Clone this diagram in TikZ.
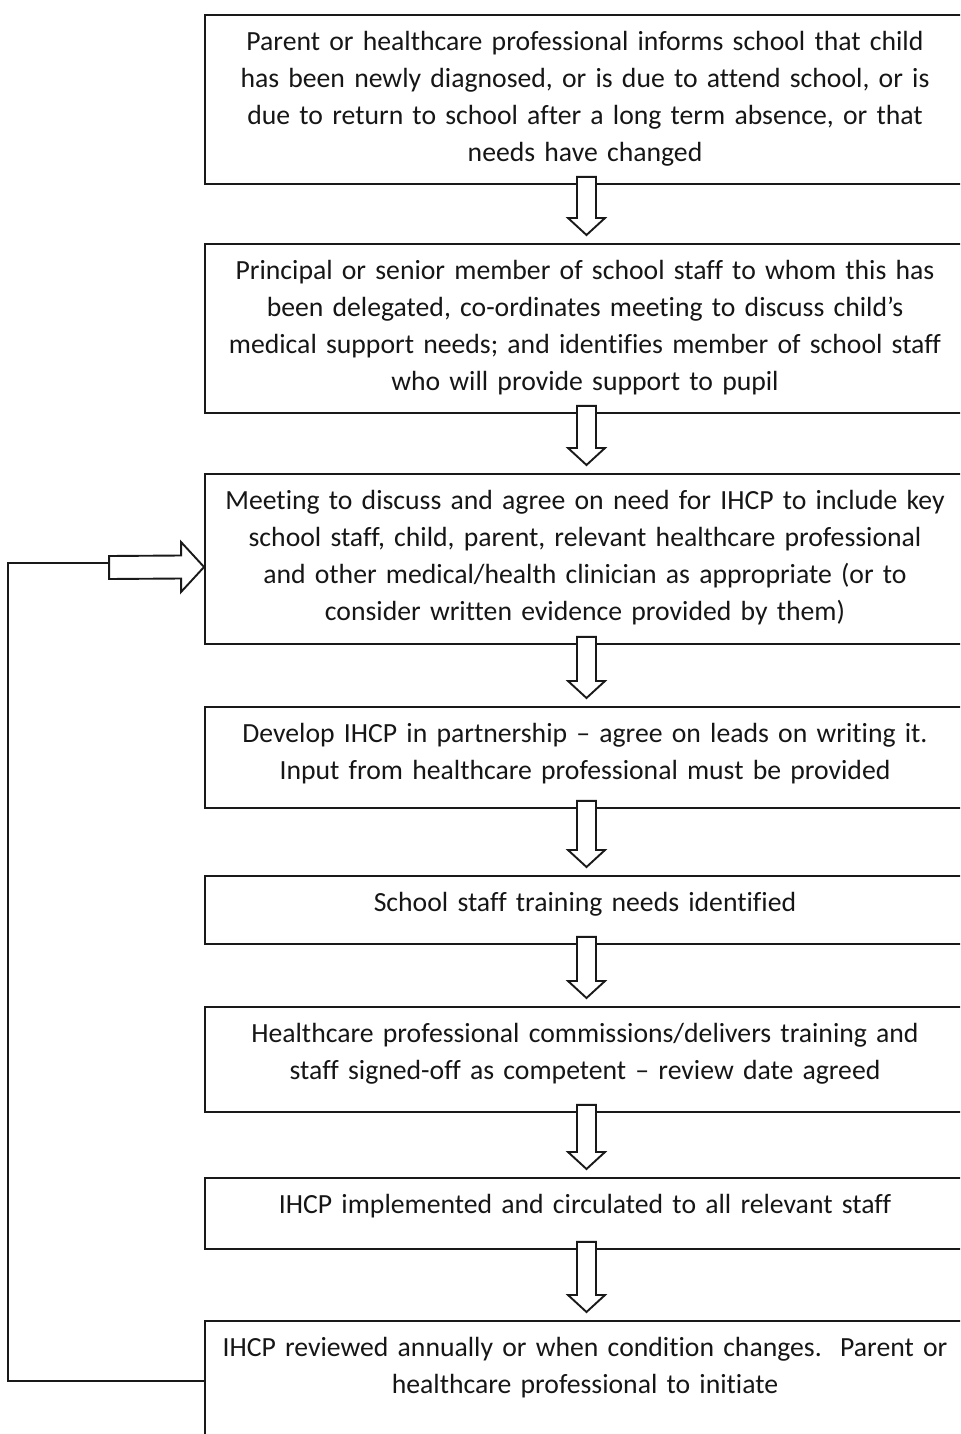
\documentclass[tikz,border=0pt]{standalone}
\usepackage{fontspec}
\setmainfont{Carlito}[Ligatures={TeX,NoCommon}]
\usepackage{tikz}
\usetikzlibrary{calc}
\definecolor{InkGray}{RGB}{22, 22, 22}
\definecolor{LineGray}{RGB}{25, 25, 25}

%% hollow block arrow from one box down to the next
\newcommand{\hollowdown}[2]{%
    \coordinate (tail) at ($(#1.south)+(1.5,-8)$);
    \coordinate (tip) at ($(#2.north)+(1.5,-8)$);
    \draw[blockarrow]
    ($(tail)+(-9.5,0)$) to ($(tip)+(-9.5,-17)$) to ($(tip)+(-18.5,-17)$) to (tip)
    to ($(tip)+(18.5,-17)$) to ($(tip)+(9.5,-17)$) to ($(tail)+(9.5,0)$) to cycle;
}

\begin{document}
\begin{tikzpicture}[x=0.5pt, y=-0.5pt,
    stepbox/.style={draw=LineGray, line width=0.95pt, fill=white, anchor=north,
        text width=370pt, inner xsep=5pt, inner ysep=0pt, align=center,
        text height=18pt, text=InkGray,
        font=\fontsize{13.85pt}{18.35pt}\selectfont},
    blockarrow/.style={draw=LineGray, line width=0.95pt, fill=white, line join=miter},
    loopline/.style={draw=LineGray, line width=0.95pt}]
    \clip (0,0) rectangle (960,1434);
    \fill[white] (0,0) rectangle (960,1434);

    %%Steps
    \node[stepbox, text depth=66.5pt] (b1) at (585,14)
    {Parent or healthcare professional informs school that child\\
     has been newly diagnosed, or is due to attend school, or is\\
     due to return to school after a long term absence, or that\\
     needs have changed};
    \node[stepbox, text depth=66.5pt] (b2) at (585,243)
    {Principal or senior member of school staff to whom this has\\
     been delegated, co-ordinates meeting to discuss child’s\\
     medical support needs; and identifies member of school staff\\
     who will provide support to pupil};
    \node[stepbox, text depth=67pt] (b3) at (585,473)
    {Meeting to discuss and agree on need for IHCP to include key\\
     school staff, child, parent, relevant healthcare professional\\
     and other medical/health clinician as appropriate (or to\\
     consider written evidence provided by them)};
    \node[stepbox, text depth=32.5pt] (b4) at (585,706)
    {Develop IHCP in partnership -- agree on leads on writing it.\\
     Input from healthcare professional must be provided};
    \node[stepbox, text depth=16pt] (b5) at (585,875)
    {School staff training needs identified};
    \node[stepbox, text depth=34.5pt] (b6) at (585,1006)
    {Healthcare professional commissions/delivers training and\\
     staff signed-off as competent -- review date agreed};
    \node[stepbox, text depth=17.5pt] (b7) at (585,1177)
    {IHCP implemented and circulated to all relevant staff};
    \node[stepbox, text depth=47pt] (b8) at (585,1320)
    {IHCP reviewed annually or when condition changes.\ \ Parent or\\
     healthcare professional to initiate};

    %%Arrows between steps
    \hollowdown{b1}{b2}
    \hollowdown{b2}{b3}
    \hollowdown{b3}{b4}
    \hollowdown{b4}{b5}
    \hollowdown{b5}{b6}
    \hollowdown{b6}{b7}
    \hollowdown{b7}{b8}

    %%Review loop back to the meeting
    \coordinate (back) at ($(b8.north west)+(0,61)$);
    \coordinate (entry) at ($(b3.north west)+(-95,90)$);
    \coordinate (in) at ($(b3.north west)+(0,94)$);
    \draw[loopline] (back) to ++(-196,0) |- (entry);
    \draw[blockarrow]
    ($(entry)+(0,-7)$) to ($(in)+(-23,-11.5)$) to ($(in)+(-23,-25)$) to (in)
    to ($(in)+(-23,25)$) to ($(in)+(-23,11.5)$) to ($(entry)+(0,16)$) to cycle;

\end{tikzpicture}
\end{document}
